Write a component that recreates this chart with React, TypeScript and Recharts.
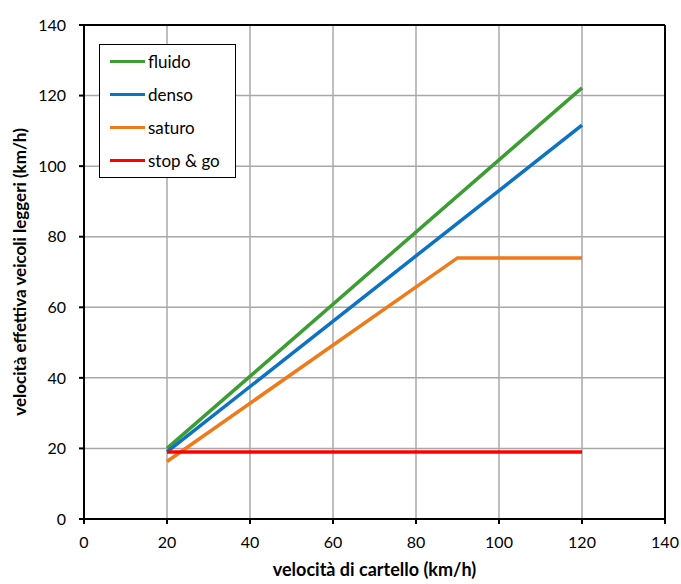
import React from 'react';
import {
  LineChart,
  Line,
  XAxis,
  YAxis,
  CartesianGrid,
  Legend,
  Label,
  ReferenceLine,
} from 'recharts';

// Points (x = velocità di cartello, y = velocità effettiva)
const fluido = [
  { x: 20, y: 20 },
  { x: 120, y: 122.2 },
];
const denso = [
  { x: 20, y: 19 },
  { x: 120, y: 111.6 },
];
const saturo = [
  { x: 20, y: 16.3 },
  { x: 90, y: 74 },
  { x: 120, y: 74 },
];
const stopGo = [
  { x: 20, y: 19 },
  { x: 120, y: 19 },
];

const ticks = [0, 20, 40, 60, 80, 100, 120, 140];

const series = [
  { name: 'fluido', data: fluido, color: '#3c9d33' },
  { name: 'denso', data: denso, color: '#0b72c4' },
  { name: 'saturo', data: saturo, color: '#ef7a1a' },
  { name: 'stop & go', data: stopGo, color: '#ff0000' },
];

const font = 'Lato, "Open Sans", sans-serif';

function LegendBox() {
  return (
    <div
      style={{
        border: '1px solid #000',
        background: '#fff',
        padding: '0 0 0 10px',
        boxSizing: 'border-box',
        width: 137,
        height: 134,
        fontFamily: font,
        fontSize: 17,
        color: '#000',
        display: 'flex',
        flexDirection: 'column',
        justifyContent: 'center',
      }}
    >
      {series.map((s) => (
        <div key={s.name} style={{ display: 'flex', alignItems: 'center', height: 33.5 }}>
          <span style={{ width: 35, height: 3, background: s.color, display: 'inline-block' }} />
          <span style={{ marginLeft: 3 }}>{s.name}</span>
        </div>
      ))}
    </div>
  );
}

export default function App() {
  return (
    <div style={{ position: 'absolute', left: 0, top: 0, width: 681, height: 584, background: '#fff' }}>
      <LineChart
        width={681}
        height={584}
        margin={{ top: 25, right: 16, left: 8, bottom: 20 }}
        style={{ fontFamily: font }}
      >
        <CartesianGrid stroke="#a8a8a8" strokeWidth={1.5} />
        <XAxis
          type="number"
          dataKey="x"
          domain={[0, 140]}
          ticks={ticks}
          height={45}
          stroke="#000"
          strokeWidth={2}
          tickSize={5}
          tickMargin={13}
          tick={{ fill: '#000', fontSize: 16 }}
          allowDuplicatedCategory={false}
        >
          <Label
            value="velocità di cartello (km/h)"
            position="insideBottom"
            offset={-12}
            style={{ fontWeight: 'bold', fontSize: 18, fill: '#000' }}
          />
        </XAxis>
        <YAxis
          type="number"
          dataKey="y"
          domain={[0, 140]}
          ticks={ticks}
          width={76}
          stroke="#000"
          strokeWidth={2}
          tickSize={5}
          tickMargin={13}
          tick={{ fill: '#000', fontSize: 16 }}
        >
          <Label
            value="velocità effettiva veicoli leggeri  (km/h)"
            angle={-90}
            position="insideLeft"
            offset={12}
            style={{ fontWeight: 'bold', fontSize: 17, fill: '#000', textAnchor: 'middle' }}
          />
        </YAxis>
        <ReferenceLine y={140} stroke="#000" strokeWidth={2} />
        <ReferenceLine x={140} stroke="#000" strokeWidth={2} />
        <Legend
          layout="horizontal"
          align="center"
          verticalAlign="middle"
          wrapperStyle={{ left: 99, top: 44, width: 137 }}
          content={() => <LegendBox />}
        />
        {series.map((s) => (
          <Line
            key={s.name}
            data={s.data}
            dataKey="y"
            name={s.name}
            type="linear"
            stroke={s.color}
            strokeWidth={3.5}
            dot={false}
            isAnimationActive={false}
          />
        ))}
      </LineChart>
    </div>
  );
}
